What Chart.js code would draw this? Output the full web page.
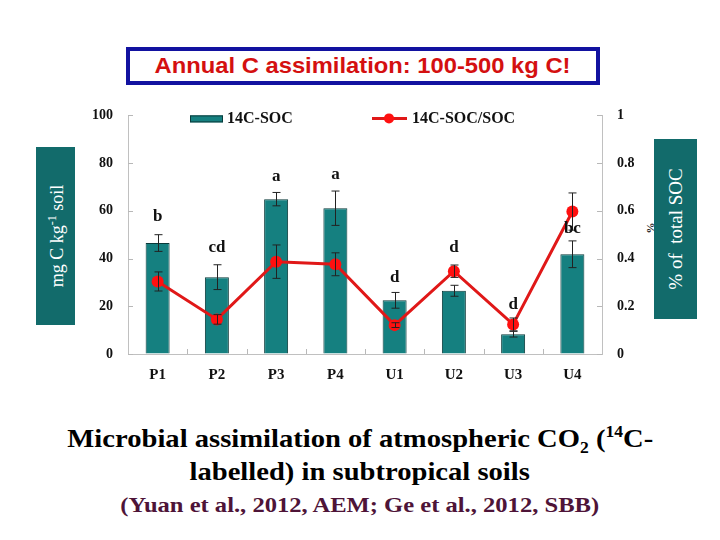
<!DOCTYPE html>
<html>
<head>
<meta charset="utf-8">
<script src="https://cdn.jsdelivr.net/npm/chart.js@4/dist/chart.umd.min.js"></script>
<style>
  html, body { margin: 0; padding: 0; background: #fff; }
  #page { position: relative; width: 720px; height: 540px; overflow: hidden; background: #fff; }
  #plot { position: absolute; left: 80px; top: 92px; }
  .titlebox {
    position: absolute; left: 126px; top: 47px; width: 466px; height: 30px;
    border: 4px solid #1212a0; background: #fff;
    font: bold 22px "Liberation Sans", Arial, sans-serif; color: #d41010;
    text-align: center; line-height: 30px;
  }
  .titlebox span { display: inline-block; transform: scaleX(1.08); }
  .sidebox { position: absolute; background: #126b6b; }
  .sidebox span {
    position: absolute; left: 50%; top: 50%; white-space: nowrap; color: #fff;
    transform: translate(-50%, -50%) rotate(-90deg);
    font-family: "Liberation Serif", "Times New Roman", serif;
  }
  .pct {
    position: absolute; left: 644px; top: 222px; transform: rotate(-90deg);
    font: bold 11px "Liberation Serif", serif; color: #222;
  }
  .caption {
    position: absolute; left: 0; width: 720px; text-align: center;
    font-family: "Liberation Serif", "Times New Roman", serif; font-weight: bold;
  }
  .caption span { display: inline-block; white-space: nowrap; }
</style>
</head>
<body>
<div id="page">
  <div class="titlebox"><span>Annual C assimilation: 100-500 kg C!</span></div>
  <div class="sidebox" style="left:36px;top:147px;width:39px;height:178px;">
    <span style="font-size:18px;">mg C kg<sup style="font-size:12px;">-1</sup> soil</span>
  </div>
  <div class="pct">%</div>
  <div class="sidebox" style="left:654px;top:139px;width:43px;height:180px;">
    <span style="font-size:19px;">% of&nbsp; total SOC</span>
  </div>
  <canvas id="plot" width="560" height="298"></canvas>
  <div class="caption" style="top:423px;font-size:26px;color:#000;"><span style="transform:scaleX(1.1);">Microbial assimilation of atmospheric CO<sub style="font-size:16px;">2</sub> (<sup style="font-size:16px;">14</sup>C-</span></div>
  <div class="caption" style="top:457px;font-size:26px;color:#000;"><span style="transform:scaleX(1.1);">labelled) in subtropical soils</span></div>
  <div class="caption" style="top:493px;font-size:21px;color:#4e1438;"><span style="transform:scaleX(1.17);">(Yuan et al., 2012, AEM; Ge et al., 2012, SBB)</span></div>
</div>
<script>
const categories = ["P1", "P2", "P3", "P4", "U1", "U2", "U3", "U4"];
const soc14 = [46.5, 32.2, 64.9, 61.1, 22.5, 26.5, 8.3, 41.8];
const soc14Err = [3.5, 5.2, 2.8, 7.2, 3.3, 2.3, 1.2, 5.6];
const ratio = [0.304, 0.145, 0.387, 0.376, 0.121, 0.347, 0.124, 0.597];
const ratioErr = [0.04, 0.02, 0.07, 0.048, 0.01, 0.026, 0.027, 0.078];
const letters = ["b", "cd", "a", "a", "d", "d", "d", "bc"];
const letterLevel = [57.5, 44.5, 74.2, 75.3, 32, 44.7, 20.8, 52.6];

const serif = '"Liberation Serif", "Times New Roman", serif';

const overlay = {
  id: 'overlay',
  afterDatasetsDraw(chart) {
    const { ctx, scales: { x, y, y1 } } = chart;
    ctx.save();
    ctx.strokeStyle = '#222';
    ctx.lineWidth = 1;
    const whisker = (px, lo, hi) => {
      ctx.beginPath();
      ctx.moveTo(px, lo); ctx.lineTo(px, hi);
      ctx.moveTo(px - 4, lo); ctx.lineTo(px + 4, lo);
      ctx.moveTo(px - 4, hi); ctx.lineTo(px + 4, hi);
      ctx.stroke();
    };
    categories.forEach((c, i) => {
      const px = Math.round(x.getPixelForValue(i)) + 0.5;
      whisker(px, y.getPixelForValue(soc14[i] - soc14Err[i]), y.getPixelForValue(soc14[i] + soc14Err[i]));
      whisker(px, y1.getPixelForValue(ratio[i] - ratioErr[i]), y1.getPixelForValue(ratio[i] + ratioErr[i]));
    });

    // significance letters
    ctx.fillStyle = '#111';
    ctx.font = 'bold 17px ' + serif;
    ctx.textAlign = 'center';
    ctx.textBaseline = 'middle';
    letters.forEach((t, i) => {
      ctx.fillText(t, x.getPixelForValue(i), y.getPixelForValue(letterLevel[i]));
    });

    // inward tick marks
    ctx.strokeStyle = '#b8b8b8';
    ctx.beginPath();
    y.ticks.forEach(t => {
      const py = Math.round(y.getPixelForValue(t.value)) + 0.5;
      ctx.moveTo(y.right, py); ctx.lineTo(y.right + 5, py);
    });
    y1.ticks.forEach(t => {
      const py = Math.round(y1.getPixelForValue(t.value)) + 0.5;
      ctx.moveTo(y1.left, py); ctx.lineTo(y1.left - 5, py);
    });
    for (let i = 1; i < categories.length; i++) {
      const px = Math.round((x.getPixelForValue(i - 1) + x.getPixelForValue(i)) / 2) + 0.5;
      ctx.moveTo(px, x.top); ctx.lineTo(px, x.top - 5);
    }
    ctx.stroke();

    // legend inside the plot
    const ly = chart.chartArea.top + 3;
    ctx.fillStyle = '#158080';
    ctx.strokeStyle = '#0a3a3a';
    ctx.fillRect(110, ly - 3, 33, 7);
    ctx.strokeRect(110.5, ly - 2.5, 32, 6);
    ctx.fillStyle = '#111';
    ctx.font = 'bold 16px ' + serif;
    ctx.textAlign = 'left';
    ctx.fillText('14C-SOC', 147, ly);
    ctx.strokeStyle = '#e01818';
    ctx.lineWidth = 3;
    ctx.beginPath();
    ctx.moveTo(292, ly); ctx.lineTo(327, ly);
    ctx.stroke();
    ctx.fillStyle = '#ff1010';
    ctx.beginPath();
    ctx.arc(309, ly, 5, 0, Math.PI * 2);
    ctx.fill();
    ctx.fillStyle = '#111';
    ctx.fillText('14C-SOC/SOC', 332, ly);
    ctx.restore();
  }
};

const tickFont = { family: serif, weight: 'bold', size: 14 };

new Chart(document.getElementById('plot'), {
  type: 'bar',
  data: {
    labels: categories,
    datasets: [
      {
        type: 'line',
        label: '14C-SOC/SOC',
        data: ratio,
        yAxisID: 'y1',
        order: 0,
        borderColor: '#e01818',
        borderWidth: 3,
        pointRadius: 6,
        pointBackgroundColor: '#ff1010',
        pointBorderWidth: 0,
        tension: 0
      },
      {
        label: '14C-SOC',
        data: soc14,
        yAxisID: 'y',
        order: 1,
        backgroundColor: '#158080',
        borderColor: '#0a3a3a',
        borderWidth: 1,
        barPercentage: 0.405,
        categoryPercentage: 1
      }
    ]
  },
  options: {
    responsive: false,
    animation: false,
    layout: { padding: { top: 6 } },
    plugins: { legend: { display: false }, tooltip: { enabled: false } },
    scales: {
      x: {
        offset: true,
        grid: { drawOnChartArea: false, drawTicks: false },
        border: { color: '#c0c0c0' },
        ticks: { font: { family: serif, weight: 'bold', size: 15 }, color: '#111', padding: 12 },
        afterFit(s) { s.height = 36; }
      },
      y: {
        position: 'left',
        min: 0, max: 100,
        grid: { drawOnChartArea: false, drawTicks: false },
        border: { color: '#c0c0c0' },
        ticks: { stepSize: 20, font: tickFont, color: '#111', padding: 15 },
        afterFit(s) { s.width = 48; }
      },
      y1: {
        position: 'right',
        min: 0, max: 1,
        grid: { drawOnChartArea: false, drawTicks: false },
        border: { color: '#c0c0c0' },
        ticks: {
          stepSize: 0.2, font: tickFont, color: '#111', padding: 15,
          callback: v => String(+v.toFixed(1))
        },
        afterFit(s) { s.width = 38; }
      }
    }
  },
  plugins: [overlay]
});
</script>
</body>
</html>
